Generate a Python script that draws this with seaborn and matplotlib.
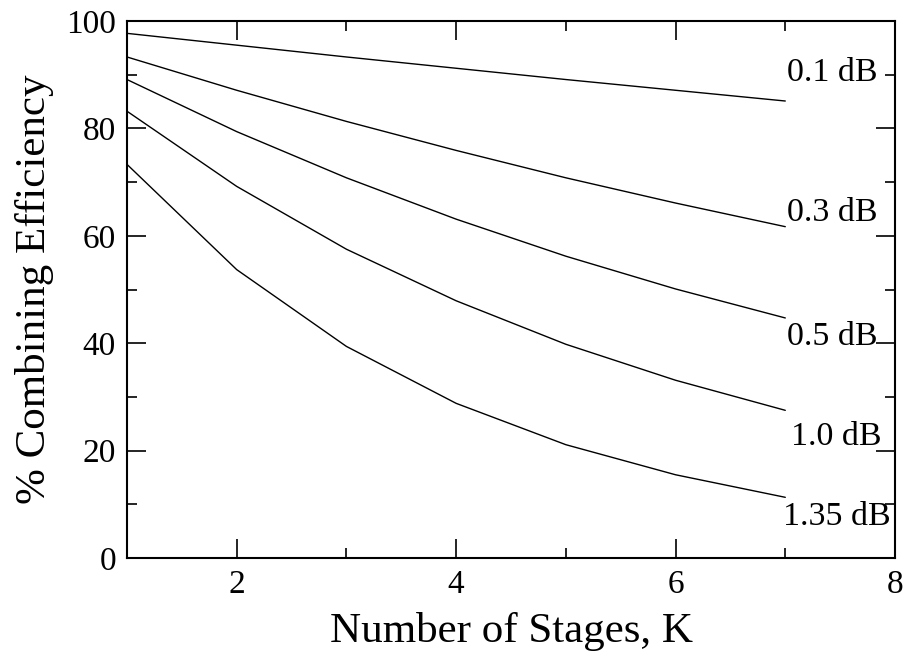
import matplotlib
matplotlib.use("Agg")
import matplotlib.pyplot as plt
import seaborn as sns
import pandas as pd
from matplotlib.ticker import MultipleLocator

stages = [1, 2, 3, 4, 5, 6, 7]
eff_01 = [97.7, 95.5, 93.3, 91.2, 89.1, 87.1, 85.1]
eff_03 = [93.3, 87.1, 81.3, 75.9, 70.8, 66.1, 61.7]
eff_05 = [89.1, 79.4, 70.8, 63.1, 56.2, 50.1, 44.7]
eff_10 = [83.2, 69.2, 57.5, 47.9, 39.8, 33.1, 27.5]
eff_135 = [73.3, 53.7, 39.4, 28.8, 21.1, 15.5, 11.3]
series_labels = ["0.1 dB", "0.3 dB", "0.5 dB", "1.0 dB", "1.35 dB"]
label_y = [90.3, 64.2, 41.2, 22.5, 7.6]
label_x = [7.02, 7.02, 7.02, 7.05, 6.98]

all_series = [eff_01, eff_03, eff_05, eff_10, eff_135]
rows = []
for lab, vals in zip(series_labels, all_series):
    for k, v in zip(stages, vals):
        rows.append({"K": k, "eff": v, "loss": lab})
df = pd.DataFrame(rows)

sns.set_theme(style="ticks")
plt.rcParams["font.family"] = ["Liberation Serif", "DejaVu Serif"]
plt.rcParams["text.color"] = "black"
plt.rcParams["axes.labelcolor"] = "black"

fig = plt.figure(figsize=(9.06, 6.54), dpi=100)
ax = fig.add_axes([127/906, 1 - 558/654, (895-127)/906, (558-21)/654])
sns.lineplot(data=df, x="K", y="eff", hue="loss", palette=["black"]*5,
             linewidth=1.0, legend=False, ax=ax)

for lab, lx, ly in zip(series_labels, label_x, label_y):
    ax.text(lx, ly, lab, fontsize=24.5, va="center", ha="left", color="black")

ax.set_xlim(1, 8)
ax.set_ylim(0, 100)
ax.xaxis.set_major_locator(MultipleLocator(2))
ax.xaxis.set_minor_locator(MultipleLocator(1))
ax.yaxis.set_major_locator(MultipleLocator(20))
ax.yaxis.set_minor_locator(MultipleLocator(10))
ax.tick_params(which="both", direction="in", top=True, right=True, colors="black",
               labelcolor="black", width=1.2)
ax.tick_params(which="major", length=14, labelsize=24, pad=8)
ax.tick_params(which="minor", length=7)
for s in ax.spines.values():
    s.set_linewidth(1.5)
    s.set_color("black")
ax.set_xlabel("Number of Stages, K", fontsize=31, labelpad=9, color="black")
ax.set_ylabel("% Combining Efficiency", fontsize=31, labelpad=9, color="black")

fig.savefig("out.png", dpi=100)
